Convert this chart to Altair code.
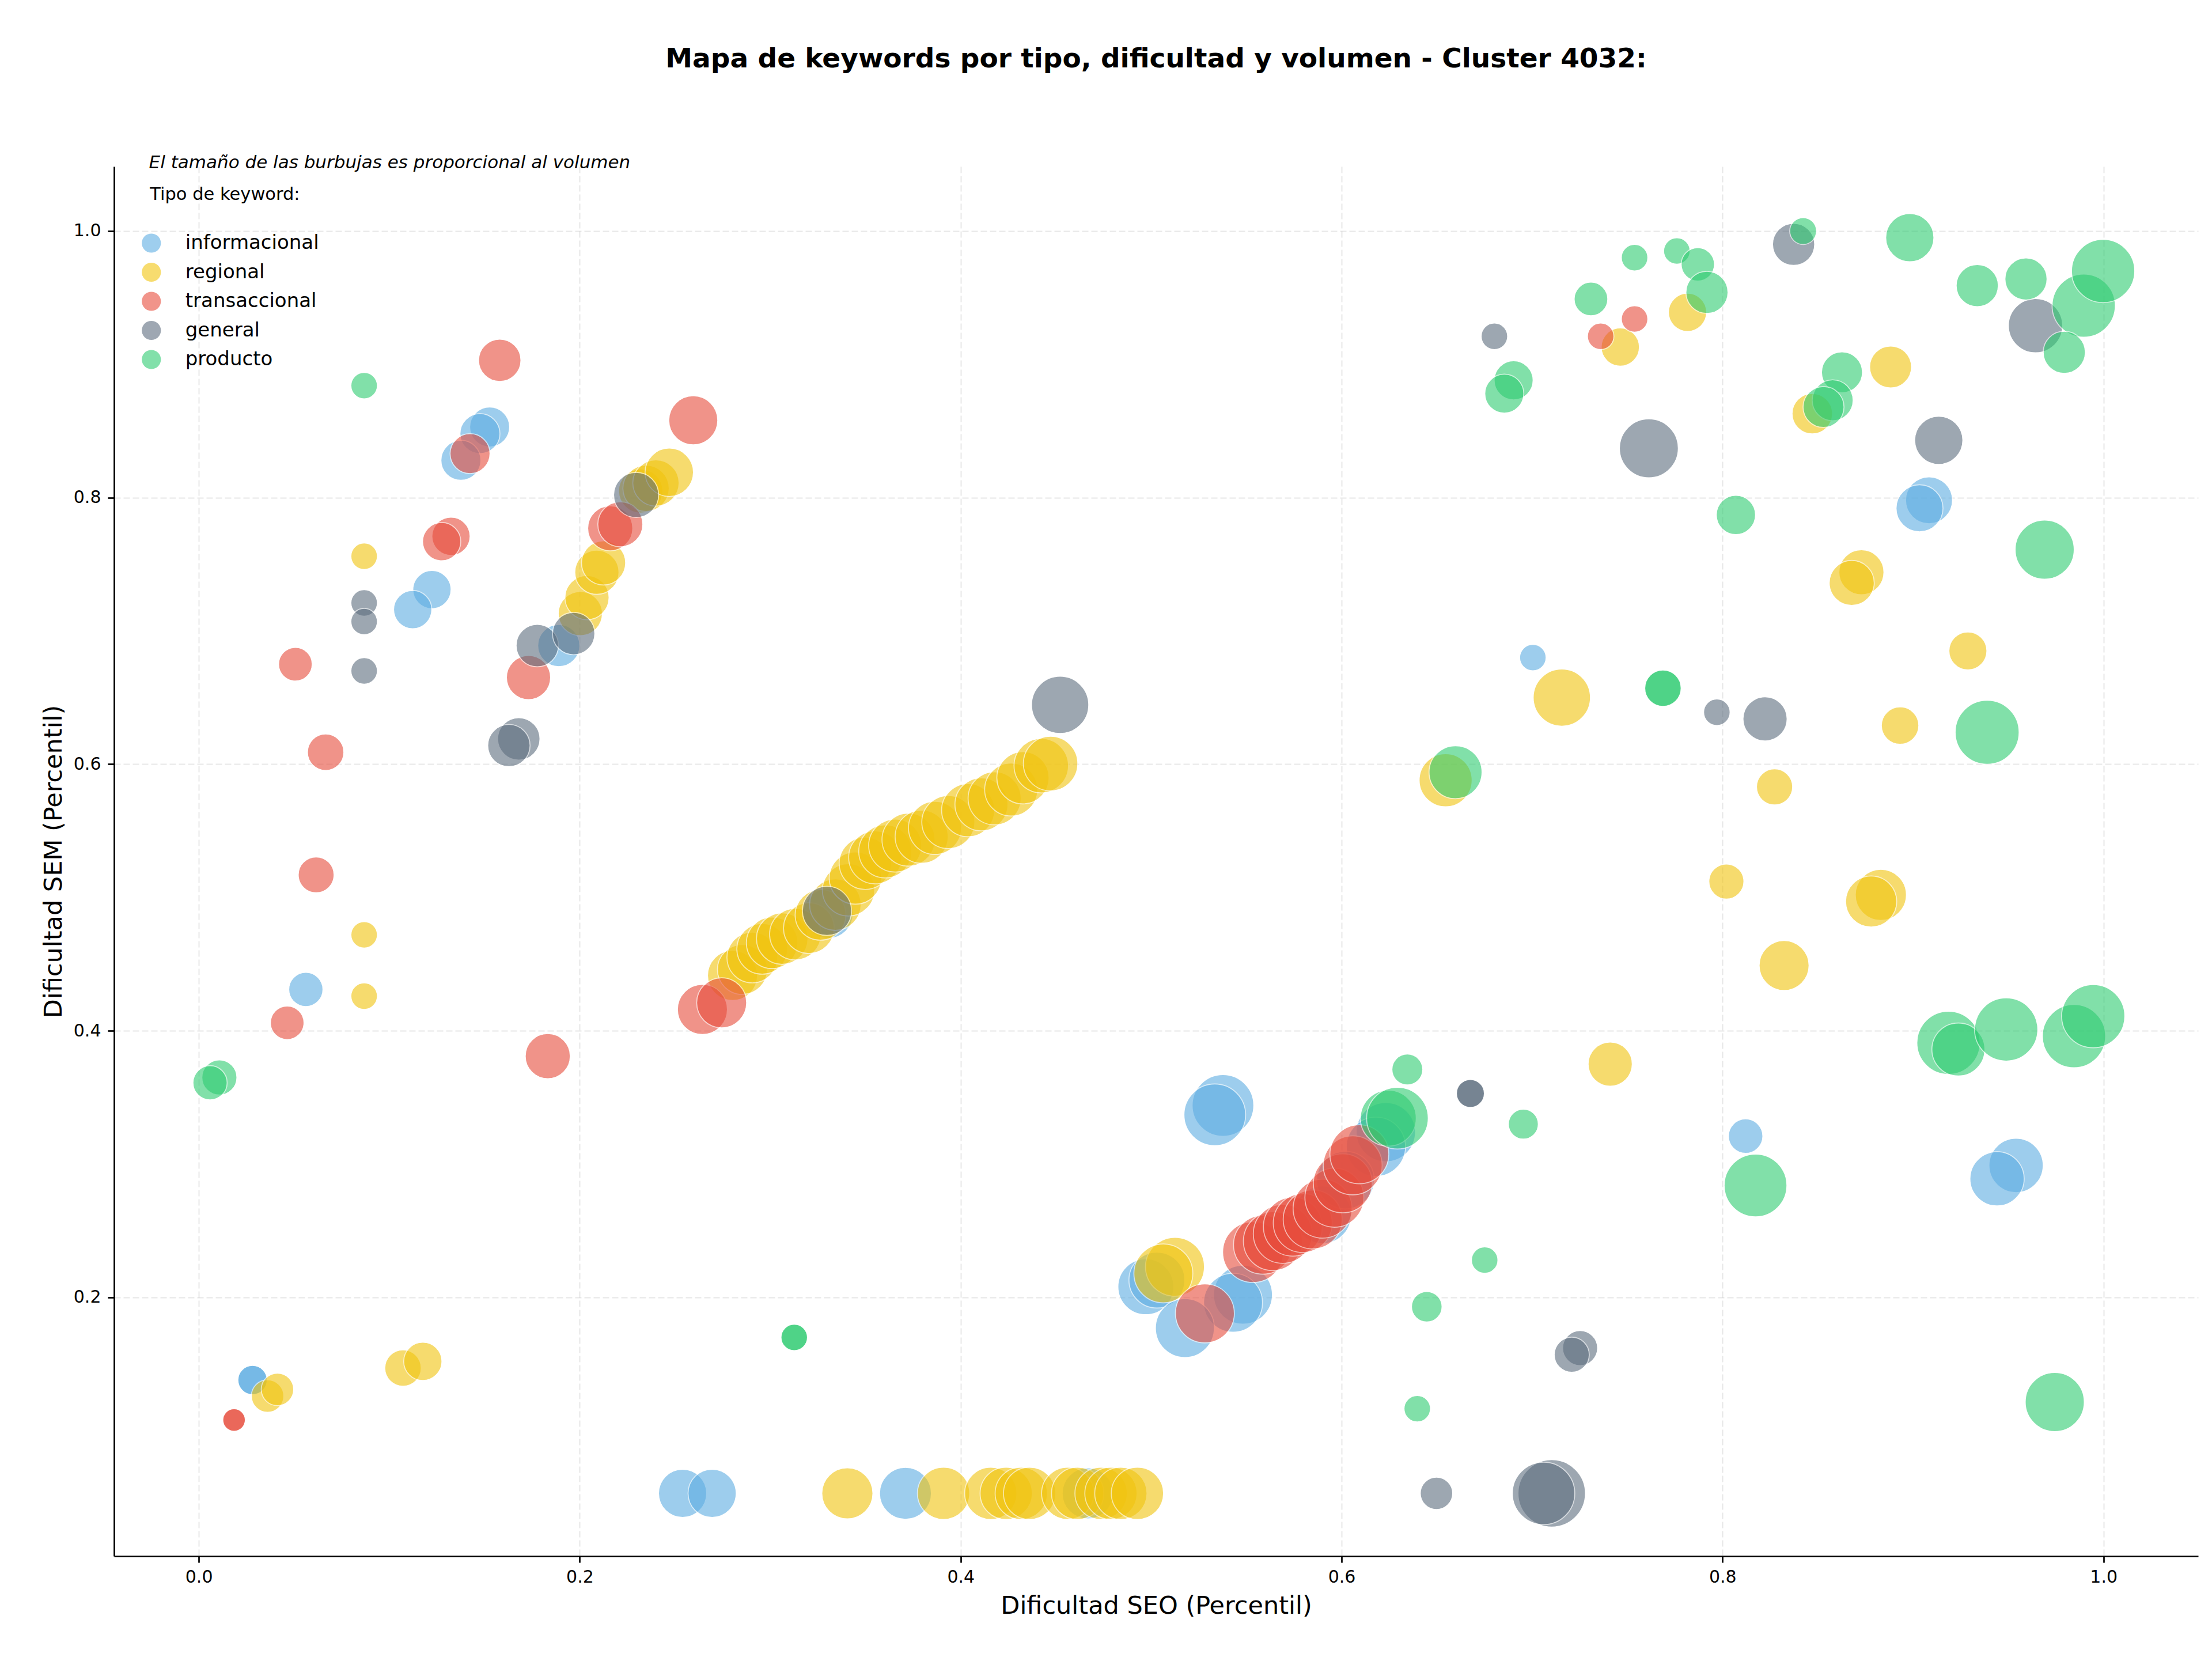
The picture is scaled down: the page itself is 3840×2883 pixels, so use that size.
import altair as alt
import pandas as pd

TITULO = "Mapa de keywords por tipo, dificultad y volumen - Cluster 4032:"
SUBTITULO = "El tamaño de las burbujas es proporcional al volumen"
TITULO_LEYENDA = "Tipo de keyword:"
EJE_X = "Dificultad SEO (Percentil)"
EJE_Y = "Dificultad SEM (Percentil)"

TIPOS = ["informacional", "regional", "transaccional", "general", "producto"]
COLORES = ["#5DADE2", "#F1C40F", "#E74C3C", "#5D6D7E", "#2ECC71"]

X_TICKS = [0.0, 0.2, 0.4, 0.6, 0.8, 1.0]
Y_TICKS = [0.2, 0.4, 0.6, 0.8, 1.0]

# ---- informacional ----
informacional_seo = [0.1527, 0.1476, 0.1376, 0.1224, 0.1123, 0.1890, 0.0562, 0.0282, 0.0282, 0.3304,
                     0.2540, 0.2695, 0.3710, 0.4667, 0.4972, 0.5030, 0.5377, 0.5334, 0.6232, 0.6180,
                     0.5482, 0.5430, 0.5177, 0.5900, 0.6020, 0.7004, 0.9084, 0.9034, 0.8121, 0.9541,
                     0.9441]
informacional_sem = [0.853, 0.848, 0.828, 0.731, 0.716, 0.689, 0.431, 0.138, 0.138, 0.488,
                     0.053, 0.053, 0.053, 0.053, 0.208, 0.213, 0.344, 0.337, 0.324, 0.313,
                     0.202, 0.196, 0.177, 0.262, 0.288, 0.680, 0.798, 0.792, 0.321, 0.299,
                     0.289]
informacional_vol = [410, 410, 410, 375, 375, 455, 300, 220, 220, 640,
                     595, 595, 690, 670, 800, 800, 975, 975, 900, 900,
                     890, 890, 890, 850, 850, 180, 565, 565, 305, 755,
                     755]

# ---- regional ----
regional_seo = [0.0868, 0.0868, 0.0868, 0.0361, 0.0413, 0.1072, 0.1176,
                0.2003, 0.2038, 0.2090, 0.2125, 0.2320, 0.2348, 0.2400, 0.2470,
                0.2802, 0.2854, 0.2906, 0.2958, 0.3010, 0.3063, 0.3132, 0.3203, 0.3264, 0.3342,
                0.3411, 0.3447, 0.3499, 0.3551, 0.3604, 0.3656, 0.3726, 0.3795, 0.3865, 0.3935,
                0.4039, 0.4109, 0.4178, 0.4265, 0.4327, 0.4423, 0.4472,
                0.3405, 0.3910, 0.4158, 0.4239, 0.4318, 0.4362, 0.4562, 0.4614, 0.4737, 0.4789,
                0.4841, 0.4928,
                0.5125, 0.5064,
                0.7156, 0.6546, 0.7410, 0.7463, 0.7816, 0.8882, 0.8471, 0.8729, 0.8678, 0.9288,
                0.8932, 0.8273, 0.8020, 0.8831, 0.8780, 0.8323]
regional_sem = [0.756, 0.472, 0.426, 0.126, 0.131, 0.147, 0.152,
                0.713, 0.725, 0.744, 0.751, 0.805, 0.807, 0.811, 0.819,
                0.4415, 0.446, 0.455, 0.4615, 0.466, 0.4692, 0.4725, 0.477, 0.487, 0.4947,
                0.5057, 0.5146, 0.5257, 0.5301, 0.5346, 0.539, 0.5434, 0.5456, 0.5522, 0.5566,
                0.5655, 0.5699, 0.5744, 0.581, 0.5898, 0.5989, 0.6005,
                0.053, 0.053, 0.053, 0.053, 0.053, 0.053, 0.053, 0.053, 0.053, 0.053,
                0.053, 0.053,
                0.223, 0.218,
                0.650, 0.588, 0.375, 0.913, 0.939, 0.898, 0.863, 0.744, 0.736, 0.685,
                0.629, 0.583, 0.512, 0.502, 0.497, 0.449]
regional_vol = [180, 180, 180, 270, 270, 340, 375,
                500, 500, 500, 500, 500, 550, 550, 600,
                640, 640, 660, 660, 680, 680, 680, 660, 660, 680,
                700, 700, 700, 720, 720, 720, 720, 720, 720, 720,
                720, 720, 720, 720, 700, 760, 760,
                670, 700, 700, 700, 700, 700, 700, 700, 700, 700,
                700, 700,
                890, 890,
                840, 720, 500, 375, 375, 450, 420, 520, 520, 370,
                360, 335, 315, 670, 670, 640]

# ---- transaccional ----
transaccional_seo = [0.1580, 0.1424, 0.1324, 0.1275, 0.0507, 0.1731, 0.0666, 0.0616, 0.0464, 0.1832,
                     0.0185, 0.0185, 0.2160, 0.2213, 0.2596, 0.2644, 0.2745,
                     0.5535, 0.5587, 0.5639, 0.5691, 0.5744, 0.5796, 0.5848, 0.5900, 0.5962, 0.6006,
                     0.6058, 0.6093, 0.5282,
                     0.7538, 0.7360]
transaccional_sem = [0.903, 0.833, 0.771, 0.767, 0.675, 0.665, 0.609, 0.517, 0.406, 0.381,
                     0.108, 0.108, 0.777, 0.780, 0.858, 0.416, 0.421,
                     0.234, 0.2395, 0.2422, 0.2477, 0.2531, 0.2558, 0.2585, 0.2666, 0.2748, 0.2856,
                     0.2991, 0.3074, 0.188,
                     0.934, 0.921]
transaccional_vol = [460, 410, 375, 375, 290, 500, 340, 330, 290, 520,
                     130, 130, 520, 520, 615, 640, 640,
                     950, 890, 890, 890, 890, 890, 890, 890, 890, 890,
                     890, 890, 890,
                     180, 180]

# ---- general ----
general_seo = [0.0868, 0.0868, 0.0868, 0.1777, 0.1968, 0.1680, 0.1628, 0.2296, 0.3298, 0.4522,
               0.6676, 0.6676, 0.7252, 0.7208, 0.6498, 0.7103, 0.7060, 0.6802, 0.7613, 0.8373,
               0.9643, 0.9135, 0.7970, 0.8223]
general_sem = [0.721, 0.707, 0.670, 0.689, 0.698, 0.619, 0.614, 0.802, 0.490, 0.6445,
               0.353, 0.353, 0.162, 0.157, 0.053, 0.053, 0.053, 0.921, 0.837, 0.990,
               0.929, 0.843, 0.639, 0.634]
general_vol = [180, 180, 180, 460, 460, 460, 460, 520, 620, 840,
               200, 200, 315, 315, 270, 1165, 1000, 180, 890, 455,
               755, 595, 180, 500]

# ---- producto ----
producto_seo = [0.0868, 0.0108, 0.0059, 0.3126, 0.3126, 0.6245, 0.6293, 0.6954, 0.6751, 0.6447,
                0.6397, 0.6345, 0.6598, 0.7687, 0.7687, 0.7538, 0.7760, 0.7870, 0.7918, 0.7309,
                0.6903, 0.6854, 0.8423, 0.8983, 0.9337, 0.9593, 0.9896, 0.9998, 0.9794, 0.8627,
                0.8578, 0.8530, 0.8070, 0.9691, 0.9389, 0.9186, 0.9238, 0.9489, 0.9845, 0.9946,
                0.8173, 0.9744]
producto_sem = [0.884, 0.365, 0.361, 0.170, 0.170, 0.3345, 0.3345, 0.330, 0.228, 0.193,
                0.1165, 0.371, 0.594, 0.657, 0.657, 0.980, 0.985, 0.975, 0.954, 0.949,
                0.888, 0.878, 1.000, 0.995, 0.959, 0.964, 0.944, 0.970, 0.909, 0.894,
                0.873, 0.868, 0.787, 0.761, 0.624, 0.391, 0.386, 0.401, 0.396, 0.411,
                0.284, 0.1215]
producto_vol = [180, 315, 300, 180, 180, 800, 975, 230, 180, 240,
                180, 245, 720, 340, 340, 180, 180, 285, 455, 290,
                390, 390, 185, 595, 455, 455, 1025, 1025, 455, 430,
                430, 430, 395, 895, 1050, 1025, 720, 1025, 1025, 1025,
                1010, 895]

series = [
    ("informacional", informacional_seo, informacional_sem, informacional_vol),
    ("regional", regional_seo, regional_sem, regional_vol),
    ("transaccional", transaccional_seo, transaccional_sem, transaccional_vol),
    ("general", general_seo, general_sem, general_vol),
    ("producto", producto_seo, producto_sem, producto_vol),
]
rows = []
for tipo, xs, ys, vs in series:
    assert len(xs) == len(ys) == len(vs), tipo
    for x, y, v in zip(xs, ys, vs):
        rows.append({"tipo": tipo, "seo": x, "sem": y, "volumen": v})
df = pd.DataFrame(rows)
df["orden"] = range(len(df))

W, H = 3618, 2412
FONT = "DejaVu Sans"

points = alt.Chart(df).mark_circle(opacity=0.6, stroke="white", strokeWidth=1.7).encode(
    x=alt.X("seo:Q",
            scale=alt.Scale(domain=[-0.0445, 1.0497], nice=False, zero=False),
            axis=alt.Axis(title=EJE_X, values=X_TICKS, format=".1f",
                          titleX=W / 2, titleY=86, titleBaseline="middle", titleAlign="center",
                          labelPadding=10)),
    y=alt.Y("sem:Q",
            scale=alt.Scale(domain=[0.0059, 1.0484], nice=False, zero=False),
            axis=alt.Axis(title=EJE_Y, values=Y_TICKS, format=".1f",
                          titleX=-105, titleY=H / 2, titleAngle=-90, titleBaseline="middle",
                          titleAlign="center", labelPadding=12)),
    size=alt.Size("volumen:Q", scale=alt.Scale(domain=[0, 1200], range=[0, 14125]), legend=None),
    color=alt.Color("tipo:N", scale=alt.Scale(domain=TIPOS, range=COLORES),
                    legend=alt.Legend(title=None, orient="none", legendX=47.75, legendY=116,
                                      padding=0, rowPadding=16.5, symbolSize=1104,
                                      symbolType="circle", symbolOpacity=0.6,
                                      symbolStrokeWidth=0, labelFontSize=34, labelFont=FONT,
                                      labelColor="black", labelOffset=42, labelLimit=1000)),
    order=alt.Order("orden:Q"),
)

subtitle = alt.Chart(pd.DataFrame({"t": [SUBTITULO]})).mark_text(
    align="left", baseline="alphabetic", fontSize=31, fontStyle="italic", font=FONT, color="black"
).encode(x=alt.value(60.6), y=alt.value(3), text="t:N")

legend_title = alt.Chart(pd.DataFrame({"t": [TITULO_LEYENDA]})).mark_text(
    align="left", baseline="alphabetic", fontSize=30.5, font=FONT, color="black"
).encode(x=alt.value(62.3), y=alt.value(57.5), text="t:N")

chart = alt.layer(points, subtitle, legend_title).properties(
    width=W, height=H,
    title=alt.TitleParams(TITULO, fontSize=47, fontWeight="bold", font=FONT, color="black",
                          anchor="middle", frame="group", baseline="alphabetic", offset=103),
    padding={"left": 198, "top": 289, "right": 24, "bottom": 182},
    autosize=alt.AutoSizeParams(type="none"),
).configure(font=FONT, background="white").configure_view(stroke=None).configure_axis(
    domainColor="black", domainWidth=2.7, tickColor="black", tickWidth=2.7, tickSize=11,
    labelFontSize=30, labelFont=FONT, labelColor="black",
    titleFontSize=43, titleFont=FONT, titleFontWeight="normal", titleColor="black",
    grid=True, gridColor="#b0b0b0", gridOpacity=0.3, gridDash=[11, 5], gridWidth=2,
)

chart.save("out.html", embed_options={"renderer": "svg", "actions": False})
